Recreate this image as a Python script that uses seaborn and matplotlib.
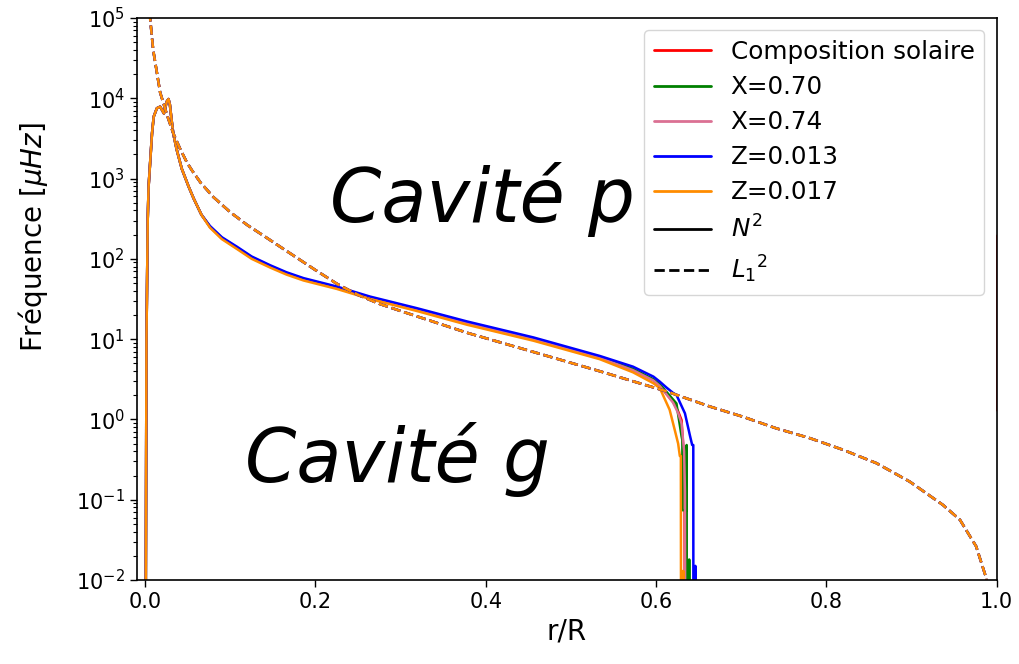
import matplotlib
matplotlib.use("Agg")
import matplotlib.pyplot as plt
from matplotlib.lines import Line2D
from matplotlib.ticker import LogLocator
import seaborn as sns
import pandas as pd

# ---------------- data ----------------
labels = ["Composition solaire", "X=0.70", "X=0.74", "Z=0.013", "Z=0.017"]
colors = ["#ff0000", "#008000", "#db7093", "#0000ff", "#ff8c00"]

# N^2 near the centre: identical for all models
r_center = [0.0005, 0.0015, 0.003, 0.004, 0.006, 0.008, 0.010, 0.0137, 0.0176,
            0.022, 0.0254, 0.0274, 0.029, 0.031, 0.033, 0.037, 0.043, 0.051,
            0.057, 0.066]
n2_center = [0.001, 10, 316, 794, 1700, 3630, 5890, 7500, 7850,
             6460, 9120, 9770, 8320, 5370, 3630, 2290, 1320, 794,
             562, 355]

# N^2 in the radiative zone
r_body = [0.076, 0.090, 0.108, 0.125, 0.147, 0.166, 0.186, 0.225, 0.264, 0.319,
          0.378, 0.456, 0.534, 0.573, 0.597]
n2_body_solar = [251, 181, 136, 104, 80.4, 66.0, 55.6, 43.7, 32.7, 23.4, 16.0, 10.0, 5.9, 4.17, 3.09]
n2_body_x070 = [252, 182, 137, 105, 81.0, 66.5, 56.0, 44.0, 33.0, 23.6, 16.2, 10.1, 5.95, 4.27, 3.16]
n2_body_x074 = [250, 180, 135, 103, 80.0, 65.6, 55.2, 43.4, 32.4, 23.2, 15.9, 9.9, 5.85, 4.1, 3.05]
n2_body_z013 = [257, 186, 141, 107, 83.0, 68.0, 57.5, 45.2, 33.9, 24.3, 16.6, 10.5, 6.17, 4.54, 3.41]
n2_body_z017 = [245, 176, 132, 100, 77.6, 63.6, 53.7, 42.2, 31.6, 22.4, 15.1, 9.55, 5.62, 3.86, 2.82]

# N^2 at the base of the convective zone
r_tail_solar = [0.6045, 0.620, 0.626, 0.630, 0.632, 0.633, 0.6335, 0.6340]
n2_tail_solar = [2.63, 1.66, 1.26, 0.98, 0.46, 0.28, 0.28, 0.0001]
r_tail_x070 = [0.6045, 0.624, 0.630, 0.631, 0.631, 0.636, 0.636, 0.6362, 0.6385, 0.639, 0.6395]
n2_tail_x070 = [2.75, 1.58, 0.62, 0.55, 0.074, 0.074, 0.48, 0.0001, 0.0001, 0.018, 0.0001]
r_tail_x074 = [0.6045, 0.620, 0.626, 0.630, 0.633, 0.634, 0.6345]
n2_tail_x074 = [2.6, 1.62, 1.2, 0.89, 0.40, 0.126, 0.0001]
r_tail_z013 = [0.6045, 0.612, 0.620, 0.624, 0.634, 0.640, 0.6425, 0.6438, 0.6438, 0.6440, 0.6455, 0.6462, 0.6468]
n2_tail_z013 = [2.95, 2.51, 2.14, 2.02, 1.19, 0.62, 0.48, 0.48, 0.26, 0.0001, 0.0001, 0.015, 0.0001]
r_tail_z017 = [0.6045, 0.616, 0.622, 0.626, 0.628, 0.6292, 0.6292, 0.6295, 0.6315, 0.632, 0.6325]
n2_tail_z017 = [2.45, 1.32, 0.74, 0.50, 0.35, 0.35, 0.25, 0.0001, 0.0001, 0.013, 0.0001]

# N^2 spike at the surface
r_surface = [1.0, 1.0]
n2_surface = [1.3, 200]

# Lamb frequency L1^2 (same for all models)
r_l1 = [0.004, 0.006, 0.0094, 0.0176, 0.026, 0.033, 0.041, 0.049, 0.055, 0.065,
        0.080, 0.100, 0.120, 0.140, 0.160, 0.180, 0.200, 0.225, 0.250, 0.275,
        0.300, 0.378, 0.456, 0.534, 0.612, 0.663, 0.702, 0.741, 0.781, 0.820,
        0.859, 0.898, 0.937, 0.957, 0.976, 0.988, 0.992]
l1_vals = [213800, 93300, 39800, 11750, 6030, 3650, 2344, 1585, 1259, 891,
           589, 380, 263, 191, 138, 100, 72.4, 49.0, 35.5, 27.5,
           22.4, 12.0, 6.92, 3.98, 2.24, 1.45, 1.08, 0.776, 0.583, 0.417,
           0.285, 0.168, 0.0861, 0.0562, 0.0263, 0.0105, 0.0025]

bodies = [n2_body_solar, n2_body_x070, n2_body_x074, n2_body_z013, n2_body_z017]
tails_r = [r_tail_solar, r_tail_x070, r_tail_x074, r_tail_z013, r_tail_z017]
tails_v = [n2_tail_solar, n2_tail_x070, n2_tail_x074, n2_tail_z013, n2_tail_z017]

xticks = [0.0, 0.2, 0.4, 0.6, 0.8, 1.0]

# ---------------- figure ----------------
sns.set_style("ticks", {"axes.edgecolor": "black", "xtick.color": "black",
                        "ytick.color": "black", "text.color": "black",
                        "axes.labelcolor": "black"})
plt.rcParams["font.family"] = ["DejaVu Sans"]

fig = plt.figure(figsize=(10.2, 6.64), dpi=100)
ax = fig.add_axes([0.134, 0.1265, 0.843, 0.8465])
ax.set_yscale("log")

lw = 1.8
for i in range(5):
    df = pd.DataFrame({"r": r_center + r_body + tails_r[i],
                       "v": n2_center + bodies[i] + tails_v[i]})
    sns.lineplot(data=df, x="r", y="v", ax=ax, color=colors[i], lw=lw,
                 sort=False, estimator=None)
    if i == 0:
        sns.lineplot(x=r_surface, y=n2_surface, ax=ax, color=colors[i], lw=lw,
                     sort=False, estimator=None)

for i in range(5):
    sns.lineplot(x=r_l1, y=l1_vals, ax=ax, color=colors[i], lw=lw,
                 linestyle="--", sort=False, estimator=None)

ax.set_xlim(-0.01, 1.0)
ax.set_ylim(1e-2, 1e5)
ax.set_xticks(xticks)
ax.yaxis.set_major_locator(LogLocator(base=10, numticks=15))
ax.yaxis.set_minor_locator(LogLocator(base=10, subs=[2, 3, 4, 5, 6, 7, 8, 9], numticks=15))
ax.tick_params(axis="both", which="major", labelsize=15, length=5, width=1)
ax.tick_params(axis="both", which="minor", length=3, width=0.8)
for s in ax.spines.values():
    s.set_linewidth(1.2)
    s.set_color("black")

ax.set_xlabel("r/R", fontsize=20)
ax.set_ylabel(r"Fréquence [$\mu Hz$]", fontsize=20)
ax.yaxis.set_label_coords(-0.101, 0.61)

ax.text(0.217, 290, "Cavité p", fontsize=53, style="italic")
ax.text(0.117, 0.166, "Cavité g", fontsize=53, style="italic")

handles = [Line2D([], [], color=c, lw=2.0) for c in colors]
handles += [Line2D([], [], color="black", lw=2.0),
            Line2D([], [], color="black", lw=2.0, linestyle="--")]
leg_labels = labels + [r"$N^2$", r"${L_1}^2$"]
ax.legend(handles, leg_labels, loc="upper right", fontsize=17.7, frameon=True,
          handlelength=2.3, labelspacing=0.45)

fig.savefig("out.png", dpi=100)
